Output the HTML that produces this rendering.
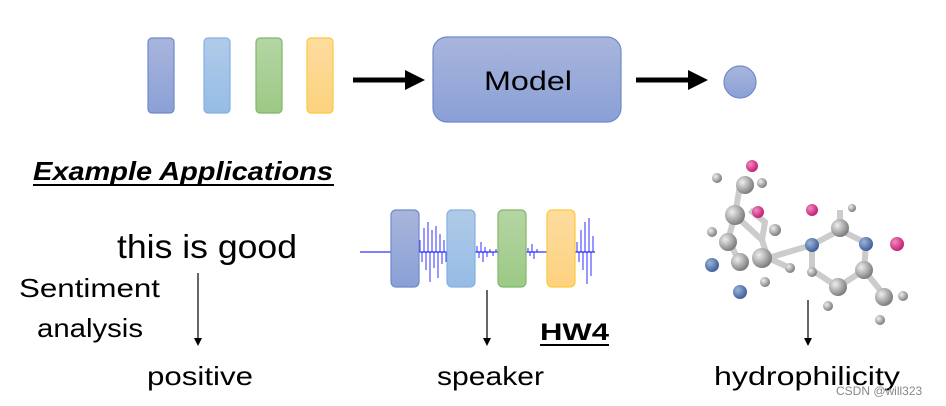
<!DOCTYPE html>
<html><head><meta charset="utf-8"><style>body{margin:0;background:#fff}svg{display:block}</style></head><body>
<svg width="946" height="406" xmlns="http://www.w3.org/2000/svg" font-family="Liberation Sans, sans-serif">
<defs>
<linearGradient id="b" x1="0" y1="0" x2="0" y2="1"><stop offset="0" stop-color="#a9b5dc"/><stop offset="1" stop-color="#8aa0d6"/></linearGradient>
<linearGradient id="l" x1="0" y1="0" x2="0" y2="1"><stop offset="0" stop-color="#b0cbe8"/><stop offset="1" stop-color="#95bce6"/></linearGradient>
<linearGradient id="g" x1="0" y1="0" x2="0" y2="1"><stop offset="0" stop-color="#b5d5a5"/><stop offset="1" stop-color="#9cc985"/></linearGradient>
<linearGradient id="y" x1="0" y1="0" x2="0" y2="1"><stop offset="0" stop-color="#fddc9f"/><stop offset="1" stop-color="#fdd27f"/></linearGradient>
<radialGradient id="s" cx="0.35" cy="0.35" r="0.7"><stop offset="0" stop-color="#eee"/><stop offset="1" stop-color="#777"/></radialGradient>
<radialGradient id="n" cx="0.35" cy="0.35" r="0.7"><stop offset="0" stop-color="#9bb3d8"/><stop offset="1" stop-color="#3a5c95"/></radialGradient>
<radialGradient id="p" cx="0.35" cy="0.35" r="0.7"><stop offset="0" stop-color="#f08ac0"/><stop offset="1" stop-color="#c01a70"/></radialGradient>
</defs>
<g stroke-width="1.2">
<rect x="148" y="38" width="26" height="75" rx="4" fill="url(#b)" stroke="#6f8acb"/>
<rect x="204" y="38" width="26" height="75" rx="4" fill="url(#l)" stroke="#84b0e0"/>
<rect x="256" y="38" width="26" height="75" rx="4" fill="url(#g)" stroke="#7fb865"/>
<rect x="307" y="38" width="26" height="75" rx="4" fill="url(#y)" stroke="#fcc93a"/>
<rect x="433" y="37" width="188" height="85" rx="14" fill="url(#b)" stroke="#6f8acb"/>
<circle cx="740" cy="82" r="16" fill="url(#b)" stroke="#6f8acb"/>
</g>
<path d="M353 80H407" stroke="#000" stroke-width="5"/><path d="M405 70L425 80L405 90Z"/>
<path d="M636 80H690" stroke="#000" stroke-width="5"/><path d="M688 70L708 80L688 90Z"/>
<text x="484" y="90" font-size="27" textLength="88" lengthAdjust="spacingAndGlyphs">Model</text>
<text x="33" y="180" font-size="26" font-weight="bold" font-style="italic" textLength="300" lengthAdjust="spacingAndGlyphs">Example Applications</text>
<path d="M33 185H334" stroke="#000" stroke-width="2"/>
<text x="117" y="258" font-size="33" textLength="180" lengthAdjust="spacingAndGlyphs">this is good</text>
<text x="19" y="297" font-size="26" textLength="141" lengthAdjust="spacingAndGlyphs">Sentiment</text>
<text x="37" y="337" font-size="26" textLength="106" lengthAdjust="spacingAndGlyphs">analysis</text>
<path d="M198 273V343" stroke="#000" stroke-width="1.2"/><path d="M194 338L198 346L202 338Z"/>
<text x="147" y="385" font-size="26" textLength="106" lengthAdjust="spacingAndGlyphs">positive</text>
<!-- wave -->
<path d="M360 252H595" stroke="#0000ff" stroke-width="1"/>
<g stroke="#0000ff" stroke-width="1" opacity="0.8">
<path d="M420 252V240M422 252V262M424 252V228M426 252V270M428 252V222M430 252V282M432 252V230M434 252V268M436 252V226M438 252V278M440 252V234M442 252V264M444 252V240M446 252V262M477 252V246M479 252V258M481 252V242M483 252V262M485 252V247M487 252V257M490 252V249M493 252V256M496 252V249M528 252V248M530 252V256M532 252V244M534 252V259M537 252V249M577 252V242M579 252V262M581 252V230M583 252V270M585 252V222M587 252V284M589 252V218M591 252V276M593 252V236"/>
</g>
<g stroke-width="1.2">
<rect x="391" y="210" width="28" height="77" rx="5" fill="url(#b)" stroke="#6f8acb"/>
<rect x="447" y="210" width="28" height="77" rx="5" fill="url(#l)" stroke="#84b0e0"/>
<rect x="498" y="210" width="28" height="77" rx="5" fill="url(#g)" stroke="#7fb865"/>
<rect x="547" y="210" width="28" height="77" rx="5" fill="url(#y)" stroke="#fcc93a"/>
</g>
<path d="M487 290V343" stroke="#000" stroke-width="1.2"/><path d="M483 338L487 346L491 338Z"/>
<text x="540" y="340" font-size="24" font-weight="bold" textLength="69" lengthAdjust="spacingAndGlyphs">HW4</text>
<path d="M540 345H609" stroke="#000" stroke-width="2"/>
<text x="437" y="385" font-size="26" textLength="107" lengthAdjust="spacingAndGlyphs">speaker</text>
<!-- molecule -->
<g stroke="#ccc" stroke-width="6" fill="none">
<path d="M740 185L735 215L762 240L768 258L812 245L840 230L866 243L864 270L838 287L812 270L812 245M735 215L728 240L740 262M840 230L840 210M864 270L884 295M762 240L765 222L750 210M768 258L790 268"/>
</g>
<g>
<circle cx="745" cy="185" r="9" fill="url(#s)"/><circle cx="752" cy="166" r="6" fill="url(#p)"/>
<circle cx="717" cy="178" r="5" fill="url(#s)"/><circle cx="762" cy="183" r="5" fill="url(#s)"/>
<circle cx="735" cy="215" r="10" fill="url(#s)"/><circle cx="712" cy="232" r="5" fill="url(#s)"/>
<circle cx="758" cy="212" r="6" fill="url(#p)"/>
<circle cx="728" cy="242" r="9" fill="url(#s)"/><circle cx="740" cy="262" r="9" fill="url(#s)"/>
<circle cx="712" cy="265" r="7" fill="url(#n)"/><circle cx="740" cy="292" r="7" fill="url(#n)"/>
<circle cx="762" cy="258" r="10" fill="url(#s)"/><circle cx="775" cy="230" r="6" fill="url(#s)"/>
<circle cx="790" cy="268" r="5" fill="url(#s)"/><circle cx="765" cy="282" r="5" fill="url(#s)"/>
<circle cx="812" cy="245" r="7" fill="url(#n)"/><circle cx="812" cy="210" r="6" fill="url(#p)"/>
<circle cx="840" cy="228" r="9" fill="url(#s)"/><circle cx="852" cy="208" r="4" fill="url(#s)"/>
<circle cx="866" cy="244" r="7" fill="url(#n)"/><circle cx="897" cy="244" r="7" fill="url(#p)"/>
<circle cx="864" cy="270" r="9" fill="url(#s)"/><circle cx="838" cy="287" r="9" fill="url(#s)"/>
<circle cx="812" cy="272" r="5" fill="url(#s)"/><circle cx="828" cy="306" r="5" fill="url(#s)"/>
<circle cx="884" cy="297" r="9" fill="url(#s)"/><circle cx="903" cy="296" r="5" fill="url(#s)"/>
<circle cx="880" cy="320" r="5" fill="url(#s)"/>
</g>
<path d="M808 300V343" stroke="#000" stroke-width="1.2"/><path d="M804 338L808 346L812 338Z"/>
<text x="714" y="385" font-size="26" textLength="186" lengthAdjust="spacingAndGlyphs">hydrophilicity</text>
<text x="836" y="395" font-size="12" fill="#888">CSDN @will323</text>
</svg>
</body></html>
